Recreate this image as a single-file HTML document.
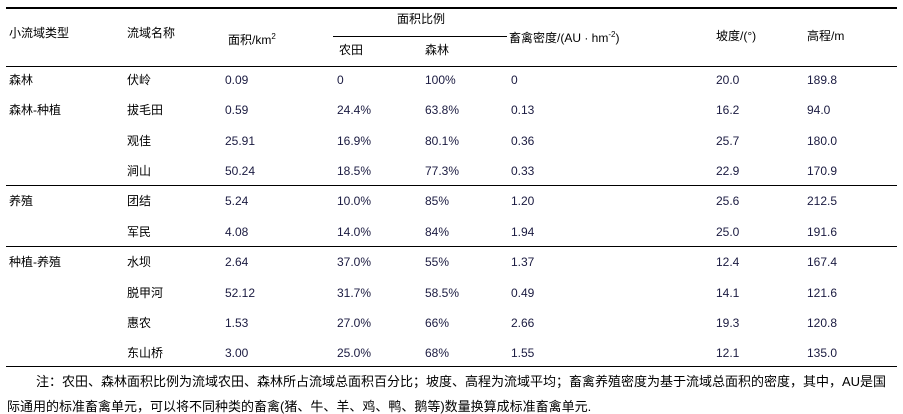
<!DOCTYPE html>
<html><head><meta charset="utf-8"><style>
body{margin:0;width:903px;height:414px;background:#fff;position:relative;font-family:"Liberation Sans","Noto Sans CJK SC",sans-serif;font-size:12px;color:#000;overflow:hidden}
.t{position:absolute;white-space:nowrap;line-height:14px}
.n{color:#1a1a40}
.l{position:absolute;background:#000;height:1px}
.note{font-size:13px;line-height:15px}
</style></head><body>
<div class="l" style="left:6px;top:7px;width:891px;height:2px"></div>
<div class="l" style="left:333px;top:36px;width:174px"></div>
<div class="l" style="left:6px;top:66px;width:891px"></div>
<div class="l" style="left:6px;top:185px;width:891px"></div>
<div class="l" style="left:6px;top:246px;width:891px"></div>
<div class="l" style="left:6px;top:366px;width:891px"></div>

<div class="t" style="left:9px;top:26px">小流域类型</div>
<div class="t" style="left:127px;top:26px">流域名称</div>
<div class="t" style="left:228px;top:30px">面积/km<sup style="font-size:8px">2</sup></div>
<div class="t" style="left:397px;top:12px">面积比例</div>
<div class="t" style="left:339px;top:43px">农田</div>
<div class="t" style="left:425px;top:43px">森林</div>
<div class="t" style="left:509px;top:28px">畜禽密度/(AU · hm<sup style="font-size:8px">-2</sup>)</div>
<div class="t" style="left:716px;top:29px">坡度/(°)</div>
<div class="t" style="left:807px;top:29px">高程/m</div>

<div class="t" style="left:9px;top:73px">森林</div>
<div class="t" style="left:9px;top:103px">森林-种植</div>
<div class="t" style="left:9px;top:194px">养殖</div>
<div class="t" style="left:9px;top:255px">种植-养殖</div>

<div class="t" style="left:127px;top:73px">伏岭</div>
<div class="t" style="left:127px;top:103px">拔毛田</div>
<div class="t" style="left:127px;top:134px">观佳</div>
<div class="t" style="left:127px;top:164px">涧山</div>
<div class="t" style="left:127px;top:194px">团结</div>
<div class="t" style="left:127px;top:225px">军民</div>
<div class="t" style="left:127px;top:255px">水坝</div>
<div class="t" style="left:127px;top:286px">脱甲河</div>
<div class="t" style="left:127px;top:316px">惠农</div>
<div class="t" style="left:127px;top:346px">东山桥</div>

<div class="t n" style="left:225px;top:73px">0.09</div>
<div class="t n" style="left:225px;top:103px">0.59</div>
<div class="t n" style="left:225px;top:134px">25.91</div>
<div class="t n" style="left:225px;top:164px">50.24</div>
<div class="t n" style="left:225px;top:194px">5.24</div>
<div class="t n" style="left:225px;top:225px">4.08</div>
<div class="t n" style="left:225px;top:255px">2.64</div>
<div class="t n" style="left:225px;top:286px">52.12</div>
<div class="t n" style="left:225px;top:316px">1.53</div>
<div class="t n" style="left:225px;top:346px">3.00</div>

<div class="t n" style="left:337px;top:73px">0</div>
<div class="t n" style="left:337px;top:103px">24.4%</div>
<div class="t n" style="left:337px;top:134px">16.9%</div>
<div class="t n" style="left:337px;top:164px">18.5%</div>
<div class="t n" style="left:337px;top:194px">10.0%</div>
<div class="t n" style="left:337px;top:225px">14.0%</div>
<div class="t n" style="left:337px;top:255px">37.0%</div>
<div class="t n" style="left:337px;top:286px">31.7%</div>
<div class="t n" style="left:337px;top:316px">27.0%</div>
<div class="t n" style="left:337px;top:346px">25.0%</div>

<div class="t n" style="left:425px;top:73px">100%</div>
<div class="t n" style="left:425px;top:103px">63.8%</div>
<div class="t n" style="left:425px;top:134px">80.1%</div>
<div class="t n" style="left:425px;top:164px">77.3%</div>
<div class="t n" style="left:425px;top:194px">85%</div>
<div class="t n" style="left:425px;top:225px">84%</div>
<div class="t n" style="left:425px;top:255px">55%</div>
<div class="t n" style="left:425px;top:286px">58.5%</div>
<div class="t n" style="left:425px;top:316px">66%</div>
<div class="t n" style="left:425px;top:346px">68%</div>

<div class="t n" style="left:511px;top:73px">0</div>
<div class="t n" style="left:511px;top:103px">0.13</div>
<div class="t n" style="left:511px;top:134px">0.36</div>
<div class="t n" style="left:511px;top:164px">0.33</div>
<div class="t n" style="left:511px;top:194px">1.20</div>
<div class="t n" style="left:511px;top:225px">1.94</div>
<div class="t n" style="left:511px;top:255px">1.37</div>
<div class="t n" style="left:511px;top:286px">0.49</div>
<div class="t n" style="left:511px;top:316px">2.66</div>
<div class="t n" style="left:511px;top:346px">1.55</div>

<div class="t n" style="left:716px;top:73px">20.0</div>
<div class="t n" style="left:716px;top:103px">16.2</div>
<div class="t n" style="left:716px;top:134px">25.7</div>
<div class="t n" style="left:716px;top:164px">22.9</div>
<div class="t n" style="left:716px;top:194px">25.6</div>
<div class="t n" style="left:716px;top:225px">25.0</div>
<div class="t n" style="left:716px;top:255px">12.4</div>
<div class="t n" style="left:716px;top:286px">14.1</div>
<div class="t n" style="left:716px;top:316px">19.3</div>
<div class="t n" style="left:716px;top:346px">12.1</div>

<div class="t n" style="left:807px;top:73px">189.8</div>
<div class="t n" style="left:807px;top:103px">94.0</div>
<div class="t n" style="left:807px;top:134px">180.0</div>
<div class="t n" style="left:807px;top:164px">170.9</div>
<div class="t n" style="left:807px;top:194px">212.5</div>
<div class="t n" style="left:807px;top:225px">191.6</div>
<div class="t n" style="left:807px;top:255px">167.4</div>
<div class="t n" style="left:807px;top:286px">121.6</div>
<div class="t n" style="left:807px;top:316px">120.8</div>
<div class="t n" style="left:807px;top:346px">135.0</div>

<div class="t note" style="left:36px;top:374px">注：农田、森林面积比例为流域农田、森林所占流域总面积百分比；坡度、高程为流域平均；畜禽养殖密度为基于流域总面积的密度，其中，AU是国</div>
<div class="t note" style="left:7px;top:399px">际通用的标准畜禽单元，可以将不同种类的畜禽(猪、牛、羊、鸡、鸭、鹅等)数量换算成标准畜禽单元.</div>
</body></html>
